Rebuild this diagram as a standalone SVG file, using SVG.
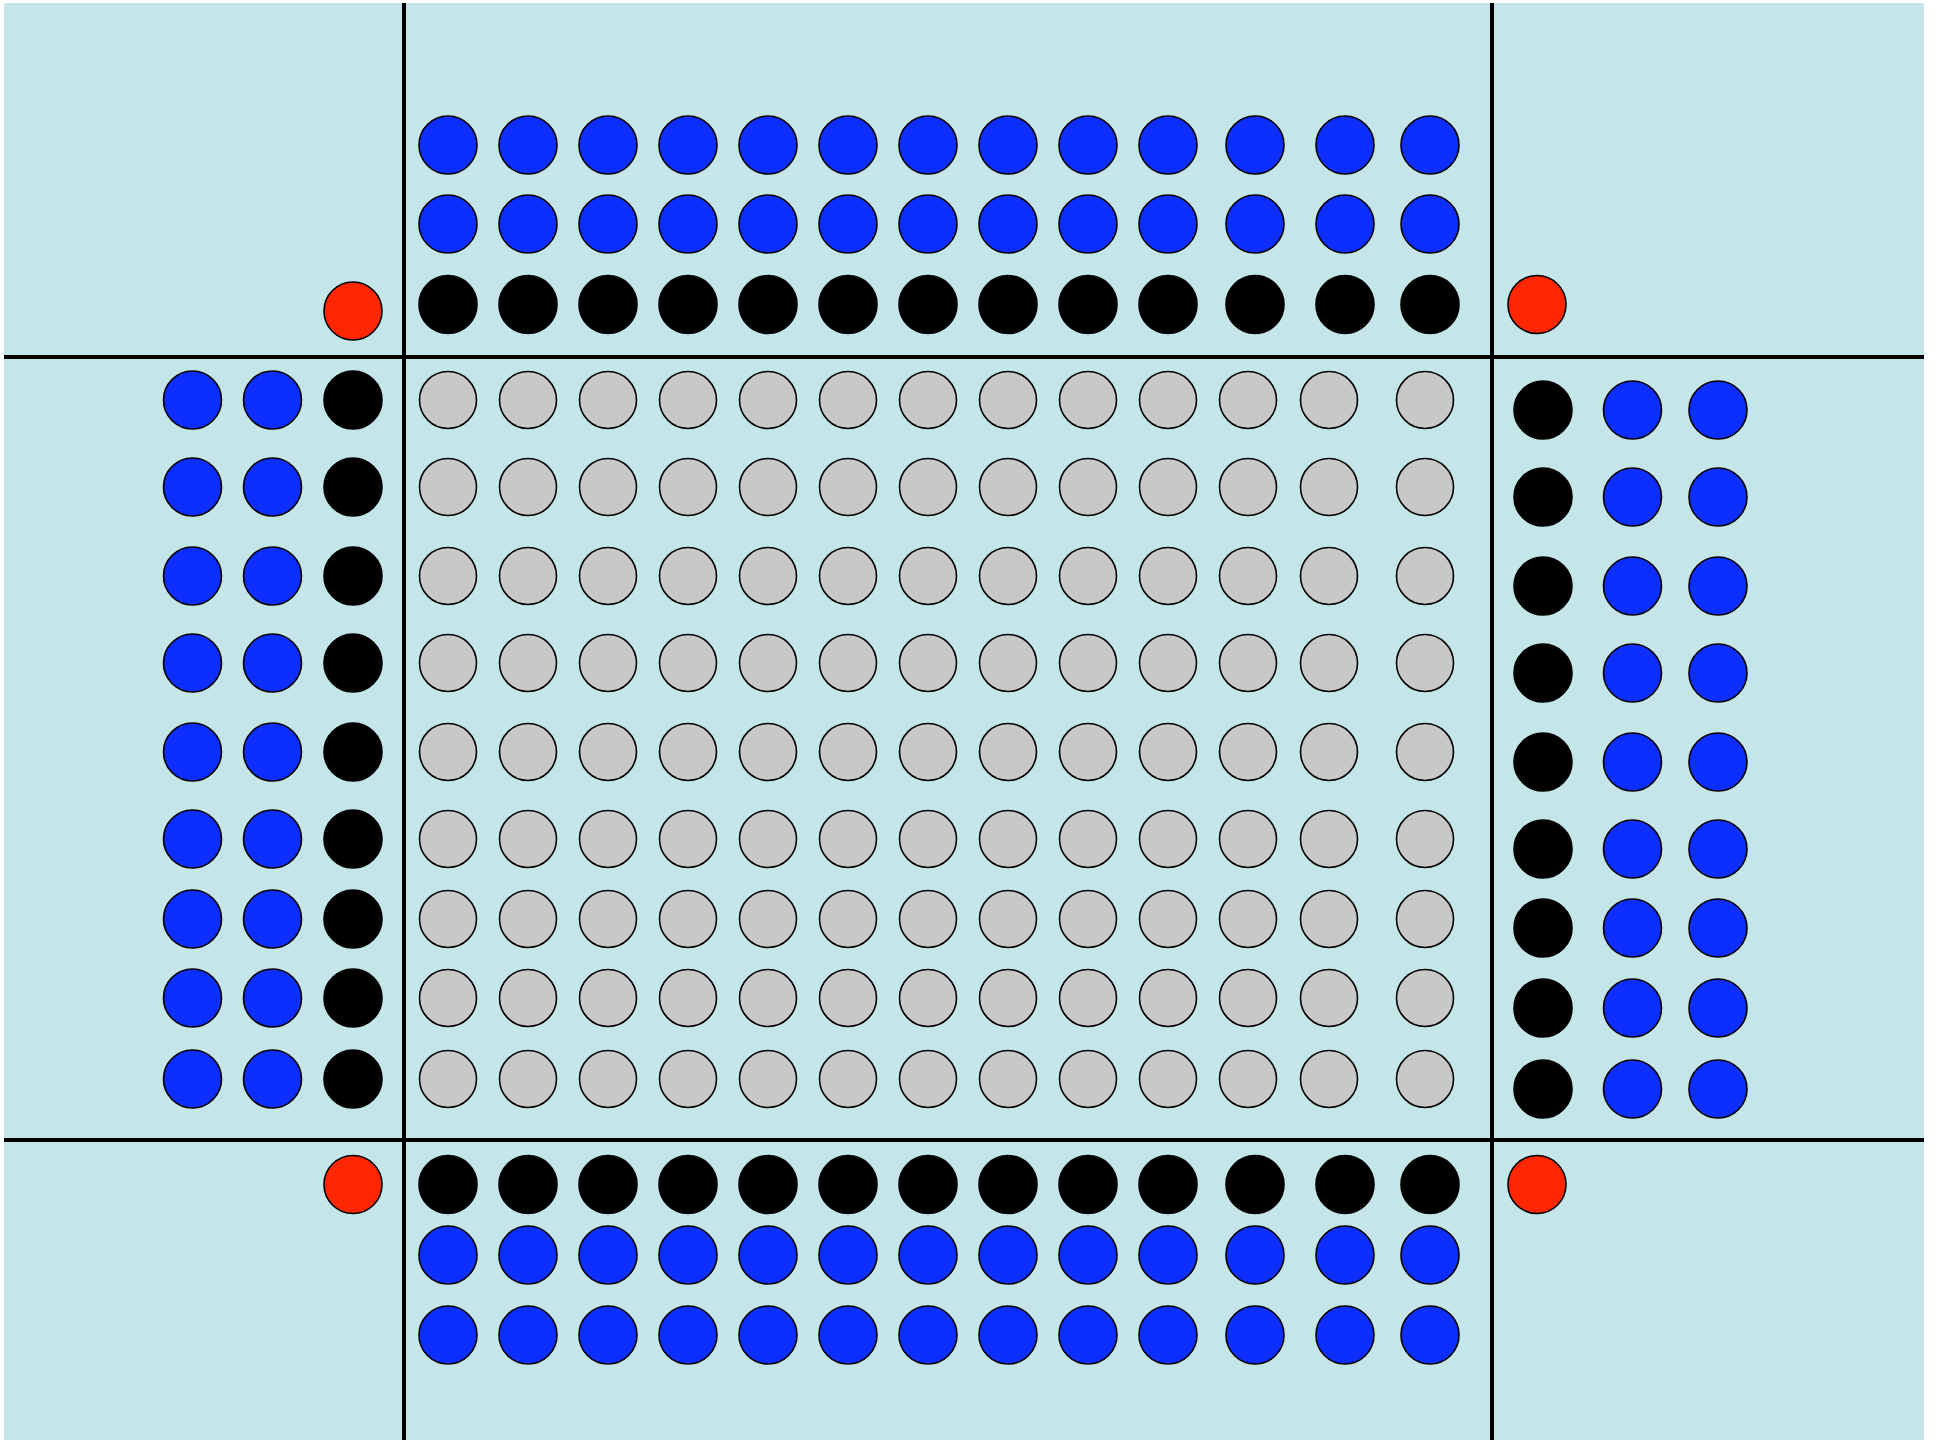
<svg xmlns="http://www.w3.org/2000/svg" width="1942" height="1440" viewBox="0 0 1942 1440">
<style>
.b{fill:#0c2eff;stroke:#000;stroke-width:1.6}
.k{fill:#000;stroke:#000;stroke-width:1.6}
.g{fill:#c8c8c8;stroke:#000;stroke-width:1.6}
.r{fill:#ff2600;stroke:#000;stroke-width:1.6}
.ln{stroke:#000;stroke-width:4;fill:none}
</style>
<rect x="0" y="0" width="1942" height="1440" fill="#fff"/>
<rect x="4" y="3" width="1920" height="1437" fill="#c4e6e8"/>
<g id="connectors">
<line class="ln" x1="404" y1="3" x2="404" y2="1440"/>
<line class="ln" x1="1492" y1="3" x2="1492" y2="1440"/>
<line class="ln" x1="4" y1="357" x2="1924" y2="357"/>
<line class="ln" x1="4" y1="1140" x2="1924" y2="1140"/>
</g>
<g id="top">
<g class="b">
<circle cx="448" cy="145" r="29"/><circle cx="528" cy="145" r="29"/><circle cx="608" cy="145" r="29"/><circle cx="688" cy="145" r="29"/><circle cx="768" cy="145" r="29"/><circle cx="848" cy="145" r="29"/><circle cx="928" cy="145" r="29"/><circle cx="1008" cy="145" r="29"/><circle cx="1088" cy="145" r="29"/><circle cx="1168" cy="145" r="29"/><circle cx="1255" cy="145" r="29"/><circle cx="1345" cy="145" r="29"/><circle cx="1430" cy="145" r="29"/>
<circle cx="448" cy="224" r="29"/><circle cx="528" cy="224" r="29"/><circle cx="608" cy="224" r="29"/><circle cx="688" cy="224" r="29"/><circle cx="768" cy="224" r="29"/><circle cx="848" cy="224" r="29"/><circle cx="928" cy="224" r="29"/><circle cx="1008" cy="224" r="29"/><circle cx="1088" cy="224" r="29"/><circle cx="1168" cy="224" r="29"/><circle cx="1255" cy="224" r="29"/><circle cx="1345" cy="224" r="29"/><circle cx="1430" cy="224" r="29"/>
</g>
<g class="k">
<circle cx="448" cy="304.5" r="29"/><circle cx="528" cy="304.5" r="29"/><circle cx="608" cy="304.5" r="29"/><circle cx="688" cy="304.5" r="29"/><circle cx="768" cy="304.5" r="29"/><circle cx="848" cy="304.5" r="29"/><circle cx="928" cy="304.5" r="29"/><circle cx="1008" cy="304.5" r="29"/><circle cx="1088" cy="304.5" r="29"/><circle cx="1168" cy="304.5" r="29"/><circle cx="1255" cy="304.5" r="29"/><circle cx="1345" cy="304.5" r="29"/><circle cx="1430" cy="304.5" r="29"/>
</g>
</g>
<g id="bottom">
<g class="k">
<circle cx="448" cy="1184.5" r="29"/><circle cx="528" cy="1184.5" r="29"/><circle cx="608" cy="1184.5" r="29"/><circle cx="688" cy="1184.5" r="29"/><circle cx="768" cy="1184.5" r="29"/><circle cx="848" cy="1184.5" r="29"/><circle cx="928" cy="1184.5" r="29"/><circle cx="1008" cy="1184.5" r="29"/><circle cx="1088" cy="1184.5" r="29"/><circle cx="1168" cy="1184.5" r="29"/><circle cx="1255" cy="1184.5" r="29"/><circle cx="1345" cy="1184.5" r="29"/><circle cx="1430" cy="1184.5" r="29"/>
</g>
<g class="b">
<circle cx="448" cy="1255" r="29"/><circle cx="528" cy="1255" r="29"/><circle cx="608" cy="1255" r="29"/><circle cx="688" cy="1255" r="29"/><circle cx="768" cy="1255" r="29"/><circle cx="848" cy="1255" r="29"/><circle cx="928" cy="1255" r="29"/><circle cx="1008" cy="1255" r="29"/><circle cx="1088" cy="1255" r="29"/><circle cx="1168" cy="1255" r="29"/><circle cx="1255" cy="1255" r="29"/><circle cx="1345" cy="1255" r="29"/><circle cx="1430" cy="1255" r="29"/>
<circle cx="448" cy="1335" r="29"/><circle cx="528" cy="1335" r="29"/><circle cx="608" cy="1335" r="29"/><circle cx="688" cy="1335" r="29"/><circle cx="768" cy="1335" r="29"/><circle cx="848" cy="1335" r="29"/><circle cx="928" cy="1335" r="29"/><circle cx="1008" cy="1335" r="29"/><circle cx="1088" cy="1335" r="29"/><circle cx="1168" cy="1335" r="29"/><circle cx="1255" cy="1335" r="29"/><circle cx="1345" cy="1335" r="29"/><circle cx="1430" cy="1335" r="29"/>
</g>
</g>
<g id="left">
<g class="b">
<circle cx="192.5" cy="400" r="29"/><circle cx="272.5" cy="400" r="29"/>
<circle cx="192.5" cy="487" r="29"/><circle cx="272.5" cy="487" r="29"/>
<circle cx="192.5" cy="576" r="29"/><circle cx="272.5" cy="576" r="29"/>
<circle cx="192.5" cy="663" r="29"/><circle cx="272.5" cy="663" r="29"/>
<circle cx="192.5" cy="752" r="29"/><circle cx="272.5" cy="752" r="29"/>
<circle cx="192.5" cy="839" r="29"/><circle cx="272.5" cy="839" r="29"/>
<circle cx="192.5" cy="919" r="29"/><circle cx="272.5" cy="919" r="29"/>
<circle cx="192.5" cy="998" r="29"/><circle cx="272.5" cy="998" r="29"/>
<circle cx="192.5" cy="1079" r="29"/><circle cx="272.5" cy="1079" r="29"/>
</g>
<g class="k">
<circle cx="353" cy="400" r="29"/><circle cx="353" cy="487" r="29"/><circle cx="353" cy="576" r="29"/><circle cx="353" cy="663" r="29"/><circle cx="353" cy="752" r="29"/><circle cx="353" cy="839" r="29"/><circle cx="353" cy="919" r="29"/><circle cx="353" cy="998" r="29"/><circle cx="353" cy="1079" r="29"/>
</g>
</g>
<g id="right">
<g class="k">
<circle cx="1543" cy="410" r="29"/><circle cx="1543" cy="497" r="29"/><circle cx="1543" cy="586" r="29"/><circle cx="1543" cy="673" r="29"/><circle cx="1543" cy="762" r="29"/><circle cx="1543" cy="849" r="29"/><circle cx="1543" cy="928" r="29"/><circle cx="1543" cy="1008" r="29"/><circle cx="1543" cy="1089" r="29"/>
</g>
<g class="b">
<circle cx="1632.5" cy="410" r="29"/><circle cx="1718" cy="410" r="29"/>
<circle cx="1632.5" cy="497" r="29"/><circle cx="1718" cy="497" r="29"/>
<circle cx="1632.5" cy="586" r="29"/><circle cx="1718" cy="586" r="29"/>
<circle cx="1632.5" cy="673" r="29"/><circle cx="1718" cy="673" r="29"/>
<circle cx="1632.5" cy="762" r="29"/><circle cx="1718" cy="762" r="29"/>
<circle cx="1632.5" cy="849" r="29"/><circle cx="1718" cy="849" r="29"/>
<circle cx="1632.5" cy="928" r="29"/><circle cx="1718" cy="928" r="29"/>
<circle cx="1632.5" cy="1008" r="29"/><circle cx="1718" cy="1008" r="29"/>
<circle cx="1632.5" cy="1089" r="29"/><circle cx="1718" cy="1089" r="29"/>
</g>
</g>
<g id="center" class="g">
<circle cx="448" cy="400" r="28.5"/><circle cx="528" cy="400" r="28.5"/><circle cx="608" cy="400" r="28.5"/><circle cx="688" cy="400" r="28.5"/><circle cx="768" cy="400" r="28.5"/><circle cx="848" cy="400" r="28.5"/><circle cx="928" cy="400" r="28.5"/><circle cx="1008" cy="400" r="28.5"/><circle cx="1088" cy="400" r="28.5"/><circle cx="1168" cy="400" r="28.5"/><circle cx="1248" cy="400" r="28.5"/><circle cx="1329" cy="400" r="28.5"/><circle cx="1425" cy="400" r="28.5"/>
<circle cx="448" cy="487" r="28.5"/><circle cx="528" cy="487" r="28.5"/><circle cx="608" cy="487" r="28.5"/><circle cx="688" cy="487" r="28.5"/><circle cx="768" cy="487" r="28.5"/><circle cx="848" cy="487" r="28.5"/><circle cx="928" cy="487" r="28.5"/><circle cx="1008" cy="487" r="28.5"/><circle cx="1088" cy="487" r="28.5"/><circle cx="1168" cy="487" r="28.5"/><circle cx="1248" cy="487" r="28.5"/><circle cx="1329" cy="487" r="28.5"/><circle cx="1425" cy="487" r="28.5"/>
<circle cx="448" cy="576" r="28.5"/><circle cx="528" cy="576" r="28.5"/><circle cx="608" cy="576" r="28.5"/><circle cx="688" cy="576" r="28.5"/><circle cx="768" cy="576" r="28.5"/><circle cx="848" cy="576" r="28.5"/><circle cx="928" cy="576" r="28.5"/><circle cx="1008" cy="576" r="28.5"/><circle cx="1088" cy="576" r="28.5"/><circle cx="1168" cy="576" r="28.5"/><circle cx="1248" cy="576" r="28.5"/><circle cx="1329" cy="576" r="28.5"/><circle cx="1425" cy="576" r="28.5"/>
<circle cx="448" cy="663" r="28.5"/><circle cx="528" cy="663" r="28.5"/><circle cx="608" cy="663" r="28.5"/><circle cx="688" cy="663" r="28.5"/><circle cx="768" cy="663" r="28.5"/><circle cx="848" cy="663" r="28.5"/><circle cx="928" cy="663" r="28.5"/><circle cx="1008" cy="663" r="28.5"/><circle cx="1088" cy="663" r="28.5"/><circle cx="1168" cy="663" r="28.5"/><circle cx="1248" cy="663" r="28.5"/><circle cx="1329" cy="663" r="28.5"/><circle cx="1425" cy="663" r="28.5"/>
<circle cx="448" cy="752" r="28.5"/><circle cx="528" cy="752" r="28.5"/><circle cx="608" cy="752" r="28.5"/><circle cx="688" cy="752" r="28.5"/><circle cx="768" cy="752" r="28.5"/><circle cx="848" cy="752" r="28.5"/><circle cx="928" cy="752" r="28.5"/><circle cx="1008" cy="752" r="28.5"/><circle cx="1088" cy="752" r="28.5"/><circle cx="1168" cy="752" r="28.5"/><circle cx="1248" cy="752" r="28.5"/><circle cx="1329" cy="752" r="28.5"/><circle cx="1425" cy="752" r="28.5"/>
<circle cx="448" cy="839" r="28.5"/><circle cx="528" cy="839" r="28.5"/><circle cx="608" cy="839" r="28.5"/><circle cx="688" cy="839" r="28.5"/><circle cx="768" cy="839" r="28.5"/><circle cx="848" cy="839" r="28.5"/><circle cx="928" cy="839" r="28.5"/><circle cx="1008" cy="839" r="28.5"/><circle cx="1088" cy="839" r="28.5"/><circle cx="1168" cy="839" r="28.5"/><circle cx="1248" cy="839" r="28.5"/><circle cx="1329" cy="839" r="28.5"/><circle cx="1425" cy="839" r="28.5"/>
<circle cx="448" cy="919" r="28.5"/><circle cx="528" cy="919" r="28.5"/><circle cx="608" cy="919" r="28.5"/><circle cx="688" cy="919" r="28.5"/><circle cx="768" cy="919" r="28.5"/><circle cx="848" cy="919" r="28.5"/><circle cx="928" cy="919" r="28.5"/><circle cx="1008" cy="919" r="28.5"/><circle cx="1088" cy="919" r="28.5"/><circle cx="1168" cy="919" r="28.5"/><circle cx="1248" cy="919" r="28.5"/><circle cx="1329" cy="919" r="28.5"/><circle cx="1425" cy="919" r="28.5"/>
<circle cx="448" cy="998" r="28.5"/><circle cx="528" cy="998" r="28.5"/><circle cx="608" cy="998" r="28.5"/><circle cx="688" cy="998" r="28.5"/><circle cx="768" cy="998" r="28.5"/><circle cx="848" cy="998" r="28.5"/><circle cx="928" cy="998" r="28.5"/><circle cx="1008" cy="998" r="28.5"/><circle cx="1088" cy="998" r="28.5"/><circle cx="1168" cy="998" r="28.5"/><circle cx="1248" cy="998" r="28.5"/><circle cx="1329" cy="998" r="28.5"/><circle cx="1425" cy="998" r="28.5"/>
<circle cx="448" cy="1079" r="28.5"/><circle cx="528" cy="1079" r="28.5"/><circle cx="608" cy="1079" r="28.5"/><circle cx="688" cy="1079" r="28.5"/><circle cx="768" cy="1079" r="28.5"/><circle cx="848" cy="1079" r="28.5"/><circle cx="928" cy="1079" r="28.5"/><circle cx="1008" cy="1079" r="28.5"/><circle cx="1088" cy="1079" r="28.5"/><circle cx="1168" cy="1079" r="28.5"/><circle cx="1248" cy="1079" r="28.5"/><circle cx="1329" cy="1079" r="28.5"/><circle cx="1425" cy="1079" r="28.5"/>
</g>
<g id="corners" class="r">
<circle cx="353" cy="311" r="29"/>
<circle cx="1537" cy="304.5" r="29"/>
<circle cx="353" cy="1184.5" r="29"/>
<circle cx="1537" cy="1184.5" r="29"/>
</g>
</svg>
